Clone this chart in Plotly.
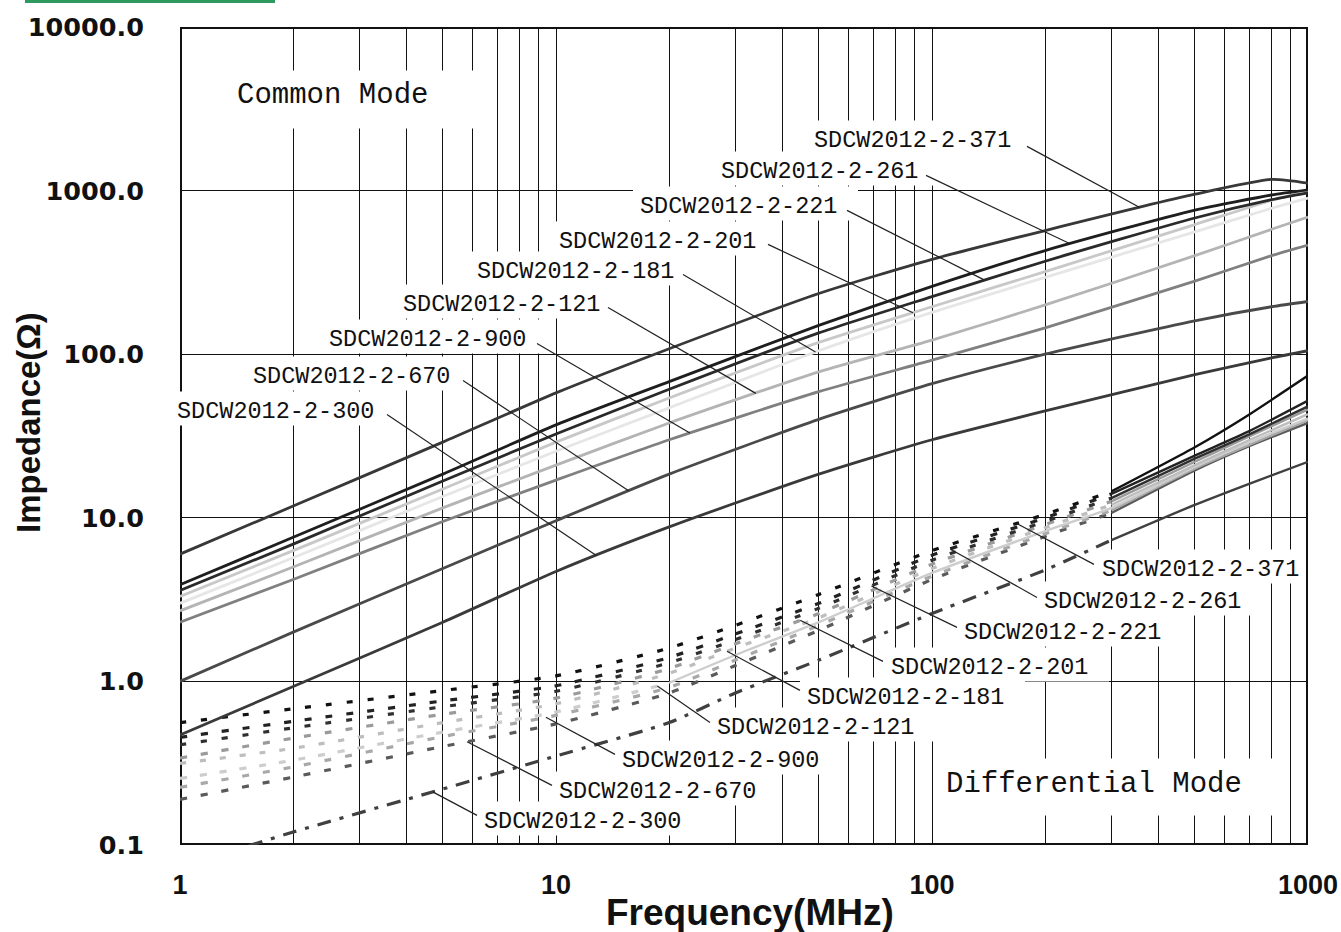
import math
import plotly.graph_objects as go

# ---------------- data ----------------
parts = ["300", "670", "900", "121", "181", "201", "221", "261", "371"]

freq_cm = [1, 2, 5, 10, 20, 50, 100, 200, 500, 800, 1000]
cm_300 = [0.47, 0.93, 2.3, 4.7, 8.8, 18.5, 30, 45, 75, 95, 105]
cm_670 = [1.0, 2.0, 4.9, 9.6, 18.5, 40, 66, 100, 160, 195, 210]
cm_900 = [2.3, 4.2, 9.5, 17, 30, 59, 92, 145, 280, 400, 464]
cm_121 = [2.7, 5.0, 11.5, 21, 38, 78, 122, 200, 400, 580, 690]
cm_181 = [3.0, 5.7, 13.5, 25.5, 47, 105, 180, 295, 560, 780, 900]
cm_201 = [3.3, 6.3, 15, 29, 54, 118, 195, 320, 620, 870, 1000]
cm_221 = [3.6, 6.9, 16.8, 32.5, 61, 135, 225, 370, 680, 880, 970]
cm_261 = [3.9, 7.6, 18.5, 37, 68, 150, 260, 430, 760, 940, 1010]
cm_371 = [6.0, 11.8, 29, 58, 108, 235, 380, 570, 950, 1170, 1110]

freq_dm = [1, 2, 5, 10, 20, 30, 50, 100, 200, 300, 500, 700, 1000]
dm_300 = [0.073, 0.12, 0.22, 0.35, 0.56, 0.85, 1.35, 2.6, 4.8, 7.3, 12, 16.2, 22]
dm_670 = [0.19, 0.26, 0.40, 0.55, 0.85, 1.25, 2.05, 4.2, 7.7, 10.7, 19.5, 27.5, 38]
dm_900 = [0.225, 0.30, 0.46, 0.62, 0.92, 1.35, 2.2, 4.4, 8.0, 11.1, 20, 28, 39.5]
dm_121 = [0.255, 0.33, 0.49, 0.65, 0.98, 1.45, 2.3, 4.6, 8.3, 11.5, 20.5, 29, 40.5]
dm_181 = [0.315, 0.39, 0.56, 0.73, 1.12, 1.6, 2.45, 4.9, 8.7, 12.0, 21, 30, 43]
dm_201 = [0.34, 0.45, 0.63, 0.79, 1.2, 1.7, 2.6, 5.2, 9.1, 12.6, 22, 31.5, 46]
dm_221 = [0.41, 0.52, 0.70, 0.87, 1.3, 1.8, 2.8, 5.5, 9.5, 13.2, 23, 32.5, 48]
dm_261 = [0.455, 0.57, 0.76, 0.94, 1.4, 1.95, 3.0, 5.9, 10.0, 14, 24, 34, 52]
dm_371 = [0.56, 0.68, 0.88, 1.08, 1.6, 2.2, 3.4, 6.3, 10.5, 14.5, 27, 43, 74]

x_tick_decades = [1, 10, 100, 1000]
x_tick_labels = ["1", "10", "100", "1000"]
y_tickvals = [0.1, 1, 10, 100, 1000, 10000]
y_ticktext = ["0.1", "1.0", "10.0", "100.0", "1000.0", "10000.0"]

cm_series = dict(zip(parts, [cm_300, cm_670, cm_900, cm_121, cm_181, cm_201, cm_221, cm_261, cm_371]))
dm_series = dict(zip(parts, [dm_300, dm_670, dm_900, dm_121, dm_181, dm_201, dm_221, dm_261, dm_371]))

# ---------------- styles ----------------
cm_color = {"300": "#3a3a3a", "670": "#4a4a4a", "900": "#808080", "121": "#b4b4b4",
            "181": "#e6e6e6", "201": "#c8c8c8", "221": "#2a2a2a", "261": "#1e1e1e", "371": "#383838"}
dm_color = {"300": "#404040", "670": "#5a5a5a", "900": "#a8a8a8", "121": "#cdcdcd",
            "181": "#bdbdbd", "201": "#9a9a9a", "221": "#303030", "261": "#222222", "371": "#111111"}
dm_dash = {"300": "14px,9px,4px,9px", "670": "7px,14px", "900": "7px,14px", "121": "7px,13px",
           "181": "6px,14px", "201": "7px,14px", "221": "6px,15px", "261": "7px,14px", "371": "6px,15px"}
# frequency from which each DM trace is drawn solid (the dashes merge at high frequency)
dm_solid_from = {"300": 300, "670": 300, "900": 300, "121": 20, "181": 300, "201": 300,
                 "221": 300, "261": 300, "371": 300}

# reference plot geometry (pixel of 1 MHz / 1 ohm, pixels per decade) used to place decorations
X0, XDEC = 180.0, 376.0
Y0, YDEC = 681.0, 163.6
PLOT_RIGHT = 1306


def fpx(px):
    return 10 ** ((px - X0) / XDEC)


def zpx(py):
    return 10 ** ((Y0 - py) / YDEC)


def loginterp(xs, ys, x):
    lx = math.log10(x)
    for i in range(len(xs) - 1):
        a, b = math.log10(xs[i]), math.log10(xs[i + 1])
        if a <= lx <= b:
            t = (lx - a) / (b - a)
            return 10 ** (math.log10(ys[i]) + t * (math.log10(ys[i + 1]) - math.log10(ys[i])))
    return ys[-1]


fig = go.Figure()

for p in parts:
    k = freq_dm.index(dm_solid_from[p])
    fig.add_trace(go.Scatter(x=freq_dm[:k + 1], y=dm_series[p][:k + 1], mode="lines", name="DM " + p,
                             line=dict(color=dm_color[p], width=3.2, dash=dm_dash[p],
                                       shape="spline", smoothing=0.6),
                             showlegend=False))
    fig.add_trace(go.Scatter(x=freq_dm[k:], y=dm_series[p][k:], mode="lines", name="DM " + p,
                             line=dict(color=dm_color[p], width=2.4, shape="spline", smoothing=0.6),
                             showlegend=False))
for p in parts:
    fig.add_trace(go.Scatter(x=freq_cm, y=cm_series[p], mode="lines", name="CM " + p,
                             line=dict(color=cm_color[p], width=2.8, shape="spline", smoothing=0.6),
                             showlegend=False))

# label placement: (text left px, text centre y px, leader tail x px, tail y px, tip frequency)
cm_labels = {
    "371": (815, 140, 1027, 146, 357),
    "261": (722, 171, 926, 175, 233),
    "221": (641, 206, 847, 210, 138),
    "201": (560, 241, 768, 244, 89),
    "181": (478, 271, 683, 274, 49),
    "121": (404, 304, 608, 307, 34),
    "900": (330, 339, 537, 343, 22.7),
    "670": (254, 376, 463, 380, 15.6),
    "300": (178, 411, 387, 414, 12.8),
}
dm_labels = {
    "371": (1103, 569, 1094, 564, 168),
    "261": (1045, 601, 1037, 597, 112),
    "221": (965, 632, 957, 627, 69),
    "201": (892, 667, 883, 661, 44.6),
    "181": (808, 697, 800, 690, 28.5),
    "121": (718, 727, 710, 722, 18.6),
    "900": (623, 760, 615, 754, 9.4),
    "670": (560, 791, 552, 785, 5.8),
    "300": (485, 821, 477, 815, 4.7),
}

label_font = dict(family="Liberation Mono, DejaVu Sans Mono, monospace", size=23.5, color="#111111")
mode_font = dict(family="Liberation Mono, DejaVu Sans Mono, monospace", size=29, color="#111111")
TXTW = 197

# plot frame first (drawn between grid and traces so the label boxes can interrupt it)
shapes = [dict(type="rect", xref="x", yref="y", x0=1, x1=1000, y0=0.1, y1=10000,
               line=dict(color="#111111", width=4), fillcolor="rgba(0,0,0,0)", layer="between")]
annotations = []


def white_box(l, r, t, b):
    shapes.append(dict(type="rect", xref="x", yref="y", x0=fpx(l), x1=fpx(min(r, PLOT_RIGHT)),
                       y0=zpx(b), y1=zpx(t),
                       fillcolor="white", line=dict(width=0), layer="between"))


for group, table, series in (("cm", cm_labels, cm_series), ("dm", dm_labels, dm_series)):
    freqs = freq_cm if group == "cm" else freq_dm
    for p, (lx, cy, tx, ty, tipf) in table.items():
        white_box(lx - 8, lx + TXTW + 20, cy - 20, cy + 14)
        annotations.append(dict(text="SDCW2012-2-" + p, x=(lx + TXTW - X0) / XDEC, y=(Y0 - cy) / YDEC,
                                xref="x", yref="y", xanchor="right", yanchor="middle",
                                showarrow=False, font=label_font, borderpad=0))
        shapes.append(dict(type="line", xref="x", yref="y", x0=fpx(tx), y0=zpx(ty),
                           x1=tipf, y1=loginterp(freqs, series[p], tipf),
                           line=dict(color="#222222", width=1.2), layer="above"))

white_box(226, 480, 70, 128)
white_box(940, 1280, 758, 815)
annotations.append(dict(text="Common Mode", x=(236 - X0) / XDEC, y=(Y0 - 95) / YDEC, xref="x", yref="y",
                        xanchor="left", yanchor="middle", showarrow=False, font=mode_font, borderpad=0))
annotations.append(dict(text="Differential Mode", x=(945 - X0) / XDEC, y=(Y0 - 784) / YDEC, xref="x", yref="y",
                        xanchor="left", yanchor="middle", showarrow=False, font=mode_font, borderpad=0))

# axis titles
annotations.append(dict(text="<b>Frequency(MHz)</b>", xref="paper", yref="paper", x=0.505, y=-0.082,
                        xanchor="center", yanchor="middle", showarrow=False,
                        font=dict(family="Liberation Sans, Arial, sans-serif", size=37, color="#111111")))
annotations.append(dict(text="<b>Impedance(Ω)</b>", xref="paper", yref="paper", x=-0.1348, y=0.517,
                        xanchor="center", yanchor="middle", showarrow=False, textangle=-90,
                        font=dict(family="Liberation Sans, Arial, sans-serif", size=33, color="#111111")))

# green strip at the top-left corner of the page
shapes.append(dict(type="rect", xref="paper", yref="paper", x0=(25 - 180) / 1128, x1=(275 - 180) / 1128,
                   y0=(845 - 3) / 818, y1=(845 + 1) / 818, fillcolor="#2f9a60", line=dict(width=0),
                   layer="above"))

# x gridlines at every digit of each decade, labels only at the decades
x_grid = []
x_grid_text = []
for d in x_tick_decades[:-1]:
    for m in range(1, 10):
        x_grid.append(d * m)
        x_grid_text.append(x_tick_labels[x_tick_decades.index(d)] if m == 1 else "")
x_grid.append(x_tick_decades[-1])
x_grid_text.append(x_tick_labels[-1])

fig.update_layout(
    width=1341, height=932,
    margin=dict(l=180, r=33, t=27, b=87, autoexpand=False),
    paper_bgcolor="white", plot_bgcolor="white",
    shapes=shapes, annotations=annotations,
    xaxis=dict(type="log", range=[0, 3], tickmode="array", tickvals=x_grid, ticktext=x_grid_text,
               automargin=False,
               showgrid=True, gridcolor="#111111", gridwidth=1.3, zeroline=False,
               showline=False, ticks="",
               ticklabelstandoff=21,
               tickfont=dict(family="Liberation Sans, Arial", size=27,
                             color="#111111", weight="bold")),
    yaxis=dict(type="log", range=[-1, 4], tickmode="array", tickvals=y_tickvals, ticktext=y_ticktext,
               automargin=False,
               showgrid=True, gridcolor="#111111", gridwidth=1.3, zeroline=False,
               showline=False, ticks="",
               ticklabelstandoff=35,
               tickfont=dict(family="DejaVu Sans, sans-serif", size=25.5, color="#111111", weight="bold")),
)

fig.write_html(
    "out.html",
    config={"displayModeBar": False},
    post_script=("document.documentElement.style.overflow='hidden';"
                 "document.body.style.margin='0px';document.body.style.overflow='hidden';"),
)
